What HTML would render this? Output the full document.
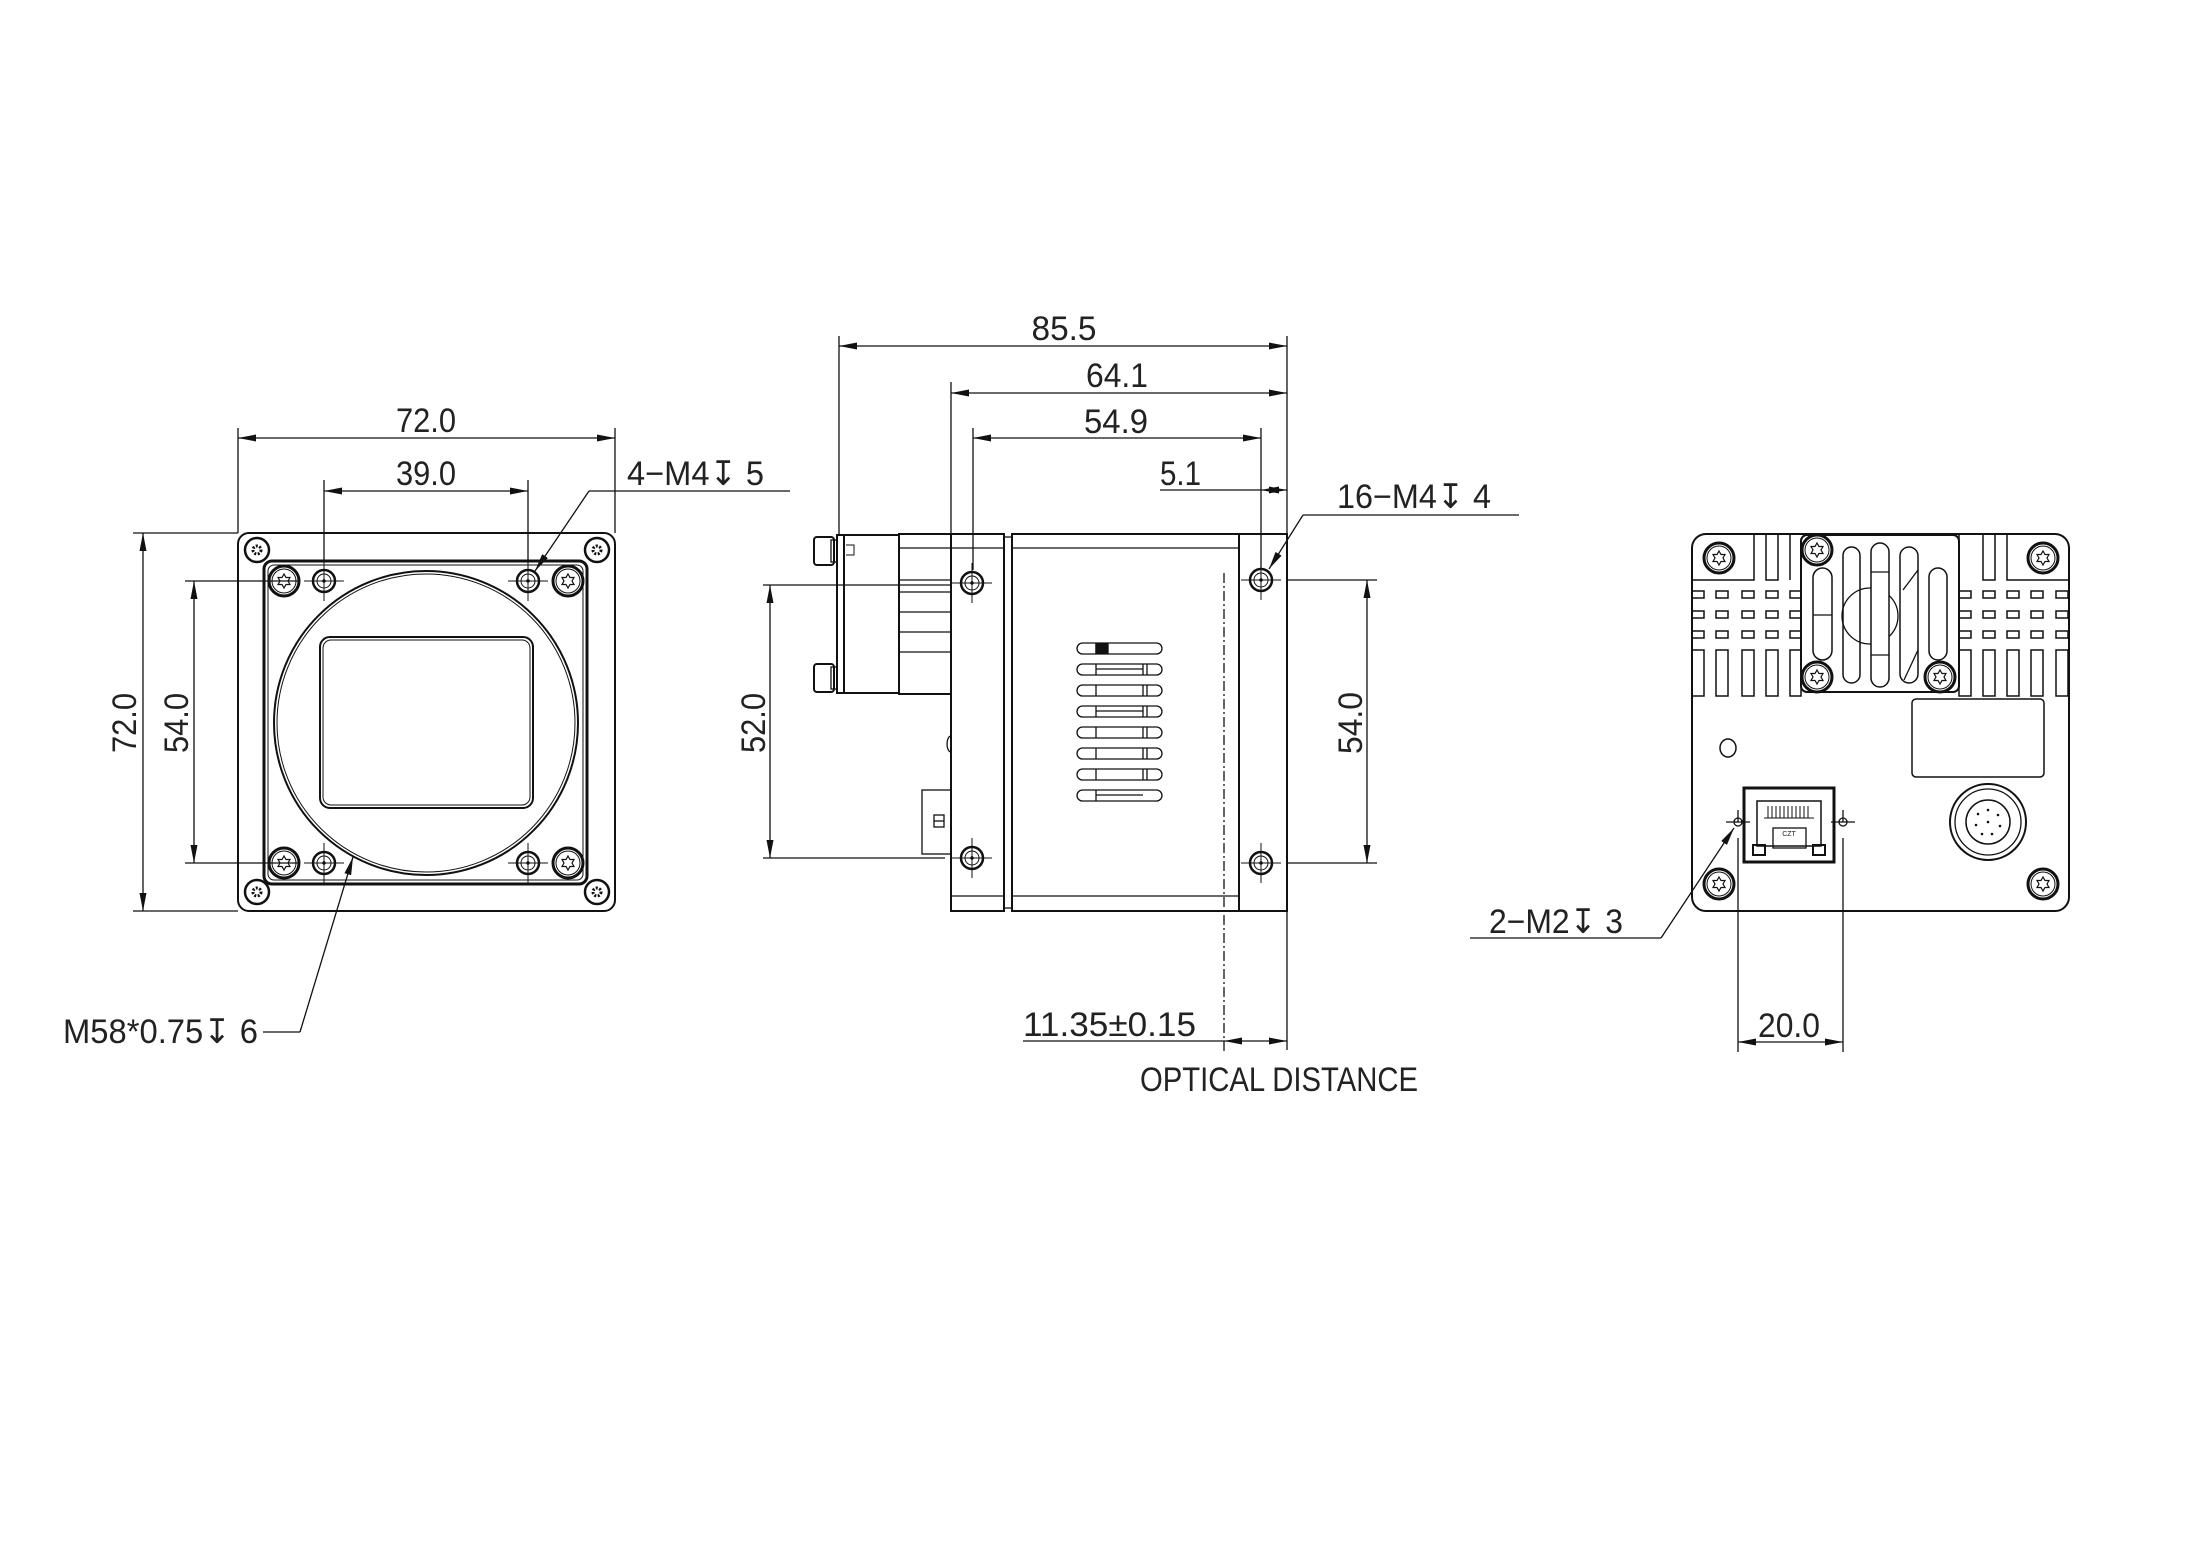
<!DOCTYPE html>
<html><head><meta charset="utf-8"><style>
html,body{margin:0;padding:0;background:#fff;}
svg{display:block;}
text{font-family:"Liberation Sans","DejaVu Sans",sans-serif;font-size:34px;fill:#222;}
</style></head><body>
<svg width="2205" height="1559" viewBox="0 0 2205 1559" xmlns="http://www.w3.org/2000/svg">
<defs>
<marker id="a" markerUnits="userSpaceOnUse" markerWidth="20" markerHeight="8" refX="18" refY="3.5" orient="auto-start-reverse">
<path d="M0,0 L18,3.5 L0,7 z" fill="#111"/></marker>
<g id="torx"><circle r="15" fill="none" stroke="#111" stroke-width="3"/><circle r="12" fill="none" stroke="#111" stroke-width="1"/>
<path d="M0,-7 L2,-3.5 L6,-3.5 L4,0 L6,3.5 L2,3.5 L0,7 L-2,3.5 L-6,3.5 L-4,0 L-6,-3.5 L-2,-3.5 Z" fill="none" stroke="#111" stroke-width="1.2"/></g>
<g id="sm"><circle r="12" fill="none" stroke="#111" stroke-width="2.5"/><circle r="4" fill="none" stroke="#111" stroke-width="3" stroke-dasharray="2 1.5"/></g>
<g id="hole"><circle r="11" fill="none" stroke="#111" stroke-width="2.5"/><circle r="7" fill="none" stroke="#111" stroke-width="1"/><line x1="-20" y1="0" x2="20" y2="0" stroke="#111" stroke-width="1"/><line x1="0" y1="-20" x2="0" y2="20" stroke="#111" stroke-width="1"/><circle r="1.2" fill="#111"/></g>
</defs>
<g fill="none" stroke="#111" stroke-width="1.3">
<rect x="238" y="533" width="377" height="378" rx="11" stroke-width="2"/>
<rect x="264" y="561" width="323" height="323" rx="8" stroke-width="3"/>
<rect x="268" y="565" width="315" height="315" rx="6" stroke-width="1"/>
<circle cx="426" cy="723" r="152" stroke-width="2"/><circle cx="426" cy="723" r="149" stroke-width="1"/>
<rect x="320" y="637" width="213" height="171" rx="10" stroke-width="2"/><rect x="323" y="640" width="207" height="165" rx="8" stroke-width="1"/>
<use href="#sm" x="257" y="550"/><use href="#sm" x="597" y="550"/><use href="#sm" x="257" y="892"/><use href="#sm" x="597" y="892"/>
<use href="#torx" x="284" y="581"/><use href="#torx" x="568" y="581"/><use href="#torx" x="284" y="863"/><use href="#torx" x="568" y="863"/>
<use href="#hole" x="324" y="581"/><use href="#hole" x="528" y="581"/><use href="#hole" x="324" y="863"/><use href="#hole" x="528" y="863"/>
<line x1="238" y1="438" x2="615" y2="438" marker-start="url(#a)" marker-end="url(#a)"/>
<line x1="238" y1="428" x2="238" y2="533"/><line x1="615" y1="428" x2="615" y2="533"/>
<line x1="324" y1="491" x2="528" y2="491" marker-start="url(#a)" marker-end="url(#a)"/>
<line x1="324" y1="480" x2="324" y2="560"/><line x1="528" y1="480" x2="528" y2="560"/>
<polyline points="790,491 589,491"/><line x1="589" y1="491" x2="535" y2="571" marker-end="url(#a)"/>
<line x1="143" y1="533" x2="143" y2="911" marker-start="url(#a)" marker-end="url(#a)"/>
<line x1="133" y1="533" x2="238" y2="533"/><line x1="133" y1="911" x2="238" y2="911"/>
<line x1="194" y1="581" x2="194" y2="863" marker-start="url(#a)" marker-end="url(#a)"/>
<line x1="185" y1="581" x2="300" y2="581"/><line x1="185" y1="863" x2="300" y2="863"/>
<polyline points="263,1032 300,1032"/><line x1="300" y1="1032" x2="353" y2="857" marker-end="url(#a)"/>
<line x1="839" y1="346" x2="1287" y2="346" marker-start="url(#a)" marker-end="url(#a)"/>
<line x1="839" y1="336" x2="839" y2="535"/><line x1="1287" y1="336" x2="1287" y2="1050"/>
<line x1="951" y1="393" x2="1287" y2="393" marker-start="url(#a)" marker-end="url(#a)"/>
<line x1="951" y1="382" x2="951" y2="688"/>
<line x1="973" y1="438" x2="1261" y2="438" marker-start="url(#a)" marker-end="url(#a)"/>
<line x1="973" y1="428" x2="973" y2="570"/><line x1="1261" y1="428" x2="1261" y2="570"/>
<line x1="1160" y1="490" x2="1261" y2="490"/>
<line x1="1261" y1="490" x2="1287" y2="490" marker-start="url(#a)" marker-end="url(#a)"/>
<line x1="1303" y1="515" x2="1519" y2="515"/><line x1="1303" y1="515" x2="1269" y2="569" marker-end="url(#a)"/>
<rect x="837" y="535" width="7" height="158" stroke-width="2"/>
<rect x="844" y="535" width="55" height="158" stroke-width="2"/>
<path d="M846,545 h8 v10 h-8" stroke-width="1"/>
<rect x="814" y="537" width="20" height="28" rx="3" stroke-width="2"/><rect x="831" y="540" width="6" height="22"/>
<rect x="814" y="664" width="20" height="28" rx="3" stroke-width="2"/><rect x="831" y="667" width="6" height="22"/>
<rect x="899" y="534" width="52" height="160" stroke-width="2"/>
<line x1="899" y1="548" x2="951" y2="548"/><line x1="899" y1="580" x2="951" y2="580"/><line x1="899" y1="592" x2="951" y2="592"/><line x1="899" y1="612" x2="951" y2="612"/><line x1="899" y1="632" x2="951" y2="632"/><line x1="899" y1="652" x2="951" y2="652"/>
<rect x="951" y="534" width="53" height="377" stroke-width="2"/>
<line x1="951" y1="548" x2="1004" y2="548"/><line x1="951" y1="896" x2="1004" y2="896"/>
<rect x="1004" y="537" width="8" height="371"/>
<rect x="1012" y="534" width="227" height="377" stroke-width="2"/>
<line x1="1012" y1="548" x2="1239" y2="548"/><line x1="1012" y1="896" x2="1239" y2="896"/>
<rect x="1239" y="534" width="48" height="377" stroke-width="2"/>
<rect x="922" y="790" width="29" height="64"/><rect x="934" y="815" width="10" height="12"/><line x1="934" y1="821" x2="944" y2="821"/>
<path d="M951,736 a4,8 0 0 0 0,16"/>
<g stroke-width="1.3">
<rect x="1077" y="643" width="85" height="11" rx="5.5"/><rect x="1077" y="664" width="85" height="11" rx="5.5"/><rect x="1077" y="685" width="85" height="11" rx="5.5"/><rect x="1077" y="706" width="85" height="11" rx="5.5"/><rect x="1077" y="727" width="85" height="11" rx="5.5"/><rect x="1077" y="748" width="85" height="11" rx="5.5"/><rect x="1077" y="769" width="85" height="11" rx="5.5"/><rect x="1077" y="790" width="85" height="11" rx="5.5"/>
<path d="M1096,643v11M1096,664v11M1096,685v11M1096,706v11M1096,727v11M1096,748v11M1096,769v11M1096,790v11M1143,664v11M1143,685v11M1143,706v11M1143,727v11M1143,748v11M1143,769v11M1147,664v11M1147,685v11M1147,706v11M1147,727v11M1147,748v11M1147,769v11M1096,669h47M1096,711h47M1096,795h47"/>
<rect x="1096" y="644" width="12" height="9" fill="#111"/>
</g>
<use href="#hole" x="972" y="583"/><use href="#hole" x="972" y="858"/><use href="#hole" x="1261" y="580"/><use href="#hole" x="1261" y="863"/>
<line x1="1224" y1="573" x2="1224" y2="1053" stroke-dasharray="10 3 2 3"/>
<line x1="770" y1="585" x2="770" y2="858" marker-start="url(#a)" marker-end="url(#a)"/>
<line x1="763" y1="585" x2="951" y2="585"/><line x1="763" y1="858" x2="945" y2="858"/>
<line x1="1367" y1="580" x2="1367" y2="863" marker-start="url(#a)" marker-end="url(#a)"/>
<line x1="1288" y1="580" x2="1377" y2="580"/><line x1="1288" y1="863" x2="1377" y2="863"/>
<line x1="1023" y1="1041" x2="1224" y2="1041"/>
<line x1="1224" y1="1041" x2="1287" y2="1041" marker-start="url(#a)" marker-end="url(#a)"/>
<rect x="1692" y="534" width="377" height="377" rx="14" stroke-width="2"/>
<g stroke-width="1.5">
<rect x="1692" y="591" width="12" height="7"/><rect x="1716" y="591" width="12" height="7"/><rect x="1742" y="591" width="12" height="7"/><rect x="1766" y="591" width="12" height="7"/><rect x="1790" y="591" width="12" height="7"/>
<rect x="1692" y="611" width="12" height="7"/><rect x="1716" y="611" width="12" height="7"/><rect x="1742" y="611" width="12" height="7"/><rect x="1766" y="611" width="12" height="7"/><rect x="1790" y="611" width="12" height="7"/>
<rect x="1692" y="631" width="12" height="7"/><rect x="1716" y="631" width="12" height="7"/><rect x="1742" y="631" width="12" height="7"/><rect x="1766" y="631" width="12" height="7"/><rect x="1790" y="631" width="12" height="7"/>
<rect x="1959" y="591" width="12" height="7"/><rect x="1983" y="591" width="12" height="7"/><rect x="2007" y="591" width="12" height="7"/><rect x="2031" y="591" width="12" height="7"/><rect x="2056" y="591" width="12" height="7"/>
<rect x="1959" y="611" width="12" height="7"/><rect x="1983" y="611" width="12" height="7"/><rect x="2007" y="611" width="12" height="7"/><rect x="2031" y="611" width="12" height="7"/><rect x="2056" y="611" width="12" height="7"/>
<rect x="1959" y="631" width="12" height="7"/><rect x="1983" y="631" width="12" height="7"/><rect x="2007" y="631" width="12" height="7"/><rect x="2031" y="631" width="12" height="7"/><rect x="2056" y="631" width="12" height="7"/>
<rect x="1692" y="650" width="12" height="46"/><rect x="1716" y="650" width="12" height="46"/><rect x="1742" y="650" width="12" height="46"/><rect x="1766" y="650" width="12" height="46"/><rect x="1790" y="650" width="11" height="46"/>
<rect x="1959" y="650" width="12" height="46"/><rect x="1983" y="650" width="12" height="46"/><rect x="2007" y="650" width="12" height="46"/><rect x="2031" y="650" width="12" height="46"/><rect x="2056" y="650" width="12" height="46"/>
<rect x="1766" y="534" width="12" height="46"/><rect x="1983" y="534" width="12" height="46"/>
<path d="M1754,534v46h-62M2007,534v46h62M1790,534v46M1959,534v46"/>
</g>
<rect x="1801" y="535" width="158" height="157" rx="6" stroke-width="2" fill="#fff"/>
<circle cx="1870" cy="616" r="28"/>
<rect x="1813" y="568" width="19" height="92" rx="9.5" stroke-width="1.5"/>
<rect x="1843" y="547" width="17" height="136" rx="8.5" stroke-width="1.5"/>
<rect x="1871" y="543" width="18" height="144" rx="9" stroke-width="1.5" fill="#fff"/>
<rect x="1900" y="547" width="18" height="136" rx="9" stroke-width="1.5"/>
<rect x="1929" y="568" width="18" height="92" rx="9" stroke-width="1.5"/>
<line x1="1813" y1="615" x2="1832" y2="615"/><line x1="1871" y1="572" x2="1889" y2="572"/><line x1="1871" y1="655" x2="1889" y2="655"/>
<line x1="1918" y1="570" x2="1903" y2="590"/><line x1="1918" y1="650" x2="1904" y2="680"/>
<use href="#torx" x="1817" y="550"/><use href="#torx" x="1817" y="677"/><use href="#torx" x="1940" y="677"/>
<use href="#torx" x="1719" y="558"/><use href="#torx" x="2043" y="558"/><use href="#torx" x="1719" y="884"/><use href="#torx" x="2043" y="884"/>
<rect x="1912" y="699" width="132" height="78" rx="4" stroke-width="1.5"/>
<ellipse cx="1728" cy="748" rx="8" ry="9" stroke-width="1.5"/>
<rect x="1744" y="788" width="90" height="74" stroke-width="3"/>
<rect x="1757" y="801" width="64" height="45" stroke-width="1.5"/>
<path d="M1768,806v12M1772,806v12M1776,806v12M1780,806v12M1784,806v12M1788,806v12M1792,806v12M1796,806v12M1800,806v12M1804,806v12M1808,806v12M1764,818h50" stroke-width="1"/>
<rect x="1773" y="828" width="33" height="20"/>
<text x="1789" y="836" style="font-size:7px" text-anchor="middle" stroke="none">CZT</text>
<rect x="1753" y="845" width="12" height="10" stroke-width="2"/><rect x="1813" y="845" width="12" height="10" stroke-width="2"/>
<circle cx="1988" cy="822" r="38" stroke-width="2"/><circle cx="1988" cy="822" r="33"/><circle cx="1988" cy="822" r="22" stroke-width="1.5"/>
<g fill="#111" stroke="none"><circle cx="1988" cy="810" r="1.3"/><circle cx="1998" cy="815" r="1.3"/><circle cx="2000" cy="826" r="1.3"/><circle cx="1992" cy="834" r="1.3"/><circle cx="1982" cy="834" r="1.3"/><circle cx="1976" cy="825" r="1.3"/><circle cx="1978" cy="814" r="1.3"/><circle cx="1988" cy="822" r="1.3"/></g>
<circle cx="1738" cy="822" r="4"/><circle cx="1843" cy="822" r="4"/>
<path d="M1726,822h24M1738,810v12M1831,822h24M1843,810v12"/>
<line x1="1738" y1="838" x2="1738" y2="1052"/><line x1="1843" y1="838" x2="1843" y2="1052"/>
<line x1="1738" y1="1042" x2="1843" y2="1042" marker-start="url(#a)" marker-end="url(#a)"/>
<line x1="1470" y1="938" x2="1661" y2="938"/><line x1="1661" y1="938" x2="1734" y2="828" marker-end="url(#a)"/>
</g>
<text x="426" y="432" text-anchor="middle" textLength="60" lengthAdjust="spacingAndGlyphs">72.0</text>
<text x="426" y="485" text-anchor="middle" textLength="60" lengthAdjust="spacingAndGlyphs">39.0</text>
<text x="627" y="485" textLength="137" lengthAdjust="spacingAndGlyphs">4−M4↧ 5</text>
<text transform="translate(136,723) rotate(-90)" text-anchor="middle" textLength="60" lengthAdjust="spacingAndGlyphs">72.0</text>
<text transform="translate(188,723) rotate(-90)" text-anchor="middle" textLength="60" lengthAdjust="spacingAndGlyphs">54.0</text>
<text x="63" y="1043" textLength="195" lengthAdjust="spacingAndGlyphs">M58*0.75↧ 6</text>
<text x="1064" y="340" text-anchor="middle" textLength="65" lengthAdjust="spacingAndGlyphs">85.5</text>
<text x="1117" y="387" text-anchor="middle" textLength="62" lengthAdjust="spacingAndGlyphs">64.1</text>
<text x="1116" y="433" text-anchor="middle" textLength="64" lengthAdjust="spacingAndGlyphs">54.9</text>
<text x="1160" y="485" textLength="41" lengthAdjust="spacingAndGlyphs">5.1</text>
<text x="1337" y="508" textLength="154" lengthAdjust="spacingAndGlyphs">16−M4↧ 4</text>
<text transform="translate(765,723) rotate(-90)" text-anchor="middle" textLength="60" lengthAdjust="spacingAndGlyphs">52.0</text>
<text transform="translate(1362,723) rotate(-90)" text-anchor="middle" textLength="62" lengthAdjust="spacingAndGlyphs">54.0</text>
<text x="1023" y="1036" textLength="173" lengthAdjust="spacingAndGlyphs">11.35±0.15</text>
<text x="1140" y="1091" textLength="278" lengthAdjust="spacingAndGlyphs">OPTICAL DISTANCE</text>
<text x="1489" y="933" textLength="134" lengthAdjust="spacingAndGlyphs">2−M2↧ 3</text>
<text x="1789" y="1037" text-anchor="middle" textLength="62" lengthAdjust="spacingAndGlyphs">20.0</text>
</svg>
</body></html>
